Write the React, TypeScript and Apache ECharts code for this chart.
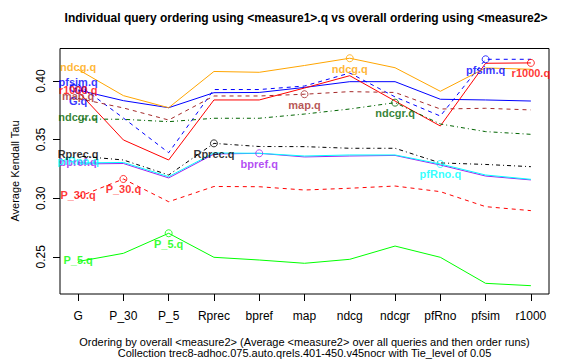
import React, { useEffect, useRef } from "react";
import * as echarts from "echarts";

const measures = ["G", "P_30", "P_5", "Rprec", "bpref", "map", "ndcg", "ndcgr", "pfRno", "pfsim", "r1000"];
const yTicks = [0.25, 0.3, 0.35, 0.4];

const gQ = [0.3923, 0.3832, 0.3772, 0.39, 0.3902, 0.3945, 0.3994, 0.3994, 0.3844, 0.3838, 0.3829];
const pfsimQ = [0.397, 0.3684, 0.3388, 0.3927, 0.3927, 0.3957, 0.4068, 0.3864, 0.3701, 0.4185, 0.4185];
const mapQ = [0.3851, 0.377, 0.3667, 0.3872, 0.3872, 0.3887, 0.3909, 0.3902, 0.3761, 0.3767, 0.3753];
const r1000Q = [0.391, 0.3497, 0.3326, 0.3838, 0.3838, 0.394, 0.4045, 0.3829, 0.3616, 0.4151, 0.4154];
const ndcgQ = [0.4098, 0.3875, 0.3772, 0.4081, 0.4074, 0.4132, 0.4194, 0.4113, 0.3912, 0.4111, 0.41];
const ndcgrQ = [0.3676, 0.3673, 0.3653, 0.3682, 0.3682, 0.3718, 0.3761, 0.3815, 0.3633, 0.3568, 0.3545];
const rprecQ = [0.336, 0.3326, 0.3198, 0.3468, 0.3441, 0.344, 0.3426, 0.3426, 0.3301, 0.3288, 0.3269];
const pfRnoQ = [0.3301, 0.3305, 0.3184, 0.3386, 0.3383, 0.336, 0.3369, 0.3369, 0.3292, 0.3198, 0.3161];
const bprefQ = [0.3292, 0.3296, 0.3173, 0.3377, 0.3383, 0.3352, 0.336, 0.3365, 0.3283, 0.3189, 0.3156];
const p30Q = [0.3011, 0.3164, 0.297, 0.31, 0.3098, 0.307, 0.3085, 0.3104, 0.3056, 0.2928, 0.2894];
const p5Q = [0.246, 0.253, 0.2701, 0.2496, 0.2473, 0.2445, 0.2479, 0.2592, 0.2496, 0.2274, 0.2254];

const seriesNames = ["G.q", "pfsim.q", "map.q", "r1000.q", "ndcg.q", "ndcgr.q", "bpref.q", "pfRno.q", "Rprec.q", "P_30.q", "P_5.q"];
const seriesMeasures = ["G", "pfsim", "map", "r1000", "ndcg", "ndcgr", "bpref", "pfRno", "Rprec", "P_30", "P_5"];
const seriesValues = [gQ, pfsimQ, mapQ, r1000Q, ndcgQ, ndcgrQ, bprefQ, pfRnoQ, rprecQ, p30Q, p5Q];
const seriesColors = ["#0000FF", "#0000FF", "#A52A2A", "#FF0000", "#FFA500", "#006400", "#A020F0", "#00FFFF", "#000000", "#FF0000", "#00FF00"];
const seriesDash: (string | number[])[] = [
  "solid", [4, 4], [4, 4], "solid", "solid", [1, 3, 4, 3], "solid", "solid", [1, 3, 4, 3], [4, 4], "solid",
];

const FONT = "Liberation Sans, Arial, Helvetica, sans-serif";

export default function App() {
  const ref = useRef<HTMLDivElement>(null);
  useEffect(() => {
    if (!ref.current) return;
    const chart = echarts.init(ref.current, undefined, { renderer: "svg" });
    const xs = measures.map((_, i) => i + 1);
    const series: any[] = [];
    seriesNames.forEach((name, k) => {
      const vals = seriesValues[k];
      const color = seriesColors[k];
      series.push({
        type: "line",
        name,
        data: vals.map((v, i) => [i + 1, v]),
        symbol: "none",
        silent: true,
        z: 2,
        lineStyle: { color, width: 1, type: seriesDash[k] },
      });
    });
    seriesNames.forEach((name, k) => {
      const vals = seriesValues[k];
      const color = seriesColors[k];
      const mi = measures.indexOf(seriesMeasures[k]);
      series.push({
        type: "scatter",
        name: name + "-own",
        data: [[mi + 1, vals[mi]]],
        symbol: "circle",
        symbolSize: 7,
        silent: true,
        z: 3,
        itemStyle: { color: "rgba(0,0,0,0)", borderColor: color, borderWidth: 1 },
        label: {
          show: true,
          position: "bottom",
          distance: 1,
          formatter: name,
          color,
          fontSize: 11,
          fontWeight: "bold",
          fontFamily: FONT,
        },
      });
      series.push({
        type: "scatter",
        name: name + "-left",
        data: [[1, vals[0]]],
        symbol: "circle",
        symbolSize: 0,
        silent: true,
        z: 3,
        itemStyle: { color: "rgba(0,0,0,0)" },
        label: {
          show: true,
          position: "inside",
          offset: [0, -2],
          formatter: name,
          color,
          fontSize: 11,
          fontWeight: "bold",
          fontFamily: FONT,
        },
      });
    });

    chart.setOption({
      animation: false,
      backgroundColor: "#ffffff",
      textStyle: { fontFamily: FONT },
      grid: {
        left: 60,
        right: 18,
        top: 48.5,
        bottom: 67,
        show: true,
        borderColor: "#000",
        borderWidth: 1,
        backgroundColor: "transparent",
      },
      xAxis: {
        type: "value",
        min: 0.6,
        max: 11.4,
        axisLine: { show: false },
        splitLine: { show: false },
        axisTick: { show: true, length: 7, customValues: xs, lineStyle: { color: "#000" } },
        axisLabel: {
          customValues: xs,
          formatter: (v: number) => measures[Math.round(v) - 1] ?? "",
          margin: 16,
          color: "#000",
          fontSize: 12,
          fontFamily: FONT,
        },
      },
      yAxis: {
        type: "value",
        min: 0.2183,
        max: 0.4277,
        axisLine: { show: false },
        splitLine: { show: false },
        axisTick: { show: true, length: 7, customValues: yTicks, lineStyle: { color: "#000" } },
        axisLabel: {
          customValues: yTicks,
          rotate: 90,
          formatter: (v: number) => v.toFixed(2),
          margin: 13,
          color: "#000",
          fontSize: 12,
          fontFamily: FONT,
        },
      },
      graphic: [
        {
          type: "text",
          x: 306,
          y: 18,
          style: {
            text: "Individual query ordering using <measure1>.q vs overall ordering using <measure2>",
            align: "center",
            verticalAlign: "middle",
            font: `bold 12px ${FONT}`,
            fill: "#000",
          },
        },
        {
          type: "text",
          x: 304.5,
          y: 342,
          style: {
            text: "Ordering by overall <measure2> (Average <measure2> over all queries and then order runs)",
            align: "center",
            verticalAlign: "middle",
            font: `11px ${FONT}`,
            fill: "#000",
          },
        },
        {
          type: "text",
          x: 304.5,
          y: 352.5,
          style: {
            text: "Collection trec8-adhoc.075.auto.qrels.401-450.v45nocr with Tie_level of 0.05",
            align: "center",
            verticalAlign: "middle",
            font: `11px ${FONT}`,
            fill: "#000",
          },
        },
        {
          type: "text",
          x: 14.5,
          y: 171,
          rotation: Math.PI / 2,
          style: {
            text: "Average Kendall Tau",
            align: "center",
            verticalAlign: "middle",
            font: `11px ${FONT}`,
            fill: "#000",
          },
        },
      ],
      series,
    });
    return () => chart.dispose();
  }, []);
  return (
    <div
      ref={ref}
      style={{ position: "fixed", left: 0, top: 0, width: 567, height: 361, background: "#fff" }}
    />
  );
}
